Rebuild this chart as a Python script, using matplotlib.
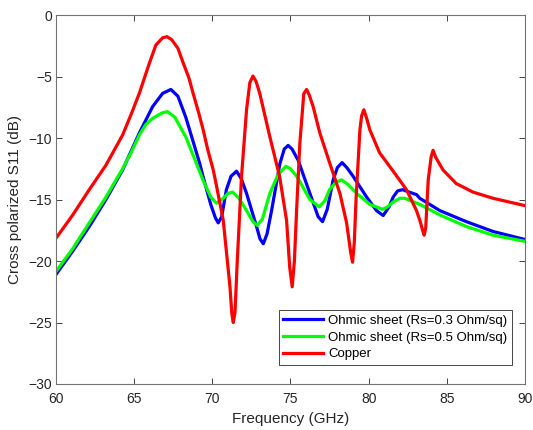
import matplotlib
matplotlib.use("Agg")
import matplotlib.pyplot as plt

plt.rcParams['font.family'] = ['Liberation Sans', 'DejaVu Sans']

# Copper
freq_cu = [60, 61.07, 62.13, 63.2, 64.26, 64.8, 65.33, 65.97, 66.39, 66.82, 67.1, 67.4,
           67.8, 68.14, 68.5, 68.78, 69.14, 69.42, 69.7, 70.06, 70.27, 70.7, 71.13, 71.25,
           71.34, 71.45, 71.6, 71.87, 72.19, 72.4, 72.6, 72.8, 73.04, 73.68, 74.3, 74.75,
           74.95, 75.11, 75.25, 75.39, 75.6, 75.85, 76.03, 76.2, 76.45, 76.88, 77.5, 78.16,
           78.59, 78.85, 78.97, 79.08, 79.2, 79.44, 79.55, 79.69, 79.85, 80.08, 80.7, 81.57,
           82.42, 83.06, 83.3, 83.45, 83.55, 83.65, 83.81, 84.0, 84.12, 84.3, 84.76, 85.6,
           86.68, 87.96, 90]
s11_cu = [-18.15, -16.26, -14.2, -12.2, -9.76, -8.1, -6.37, -3.93, -2.44, -1.85, -1.76, -2.0,
          -2.7, -3.9, -5.1, -6.4, -8.0, -9.35, -10.9, -12.6, -13.9, -16.7, -22.1, -24.3,
          -25.0, -24.2, -19.9, -13.1, -7.7, -5.5, -4.96, -5.4, -6.4, -9.9, -13.1, -16.7,
          -20.5, -22.1, -20.0, -15.9, -10.4, -6.4, -6.05, -6.5, -7.45, -9.6, -12.0, -14.5,
          -16.9, -19.3, -20.1, -18.5, -14.8, -9.35, -8.2, -7.7, -8.3, -9.35, -11.2, -12.7,
          -14.2, -15.9, -16.8, -17.5, -17.9, -17.3, -13.4, -11.5, -11.0, -11.6, -12.6, -13.7,
          -14.4, -14.9, -15.5]

# Ohmic sheet Rs=0.3
freq_03 = [60, 61.07, 62.13, 63.2, 64.26, 65.33, 66.18, 66.82, 67.35, 67.8, 68.3, 68.8,
           69.2, 69.4, 69.9, 70.2, 70.38, 70.6, 70.9, 71.2, 71.55, 71.85, 72.19, 72.83,
           73.05, 73.26, 73.5, 73.79, 74.32, 74.6, 74.85, 75.1, 75.49, 76.24, 76.77, 77.05,
           77.35, 77.73, 78.0, 78.3, 78.6, 79.0, 79.87, 80.5, 80.93, 81.3, 81.57, 81.85,
           82.17, 82.6, 83.06, 83.27, 84.55, 86.25, 87.96, 90]
s11_03 = [-21.1, -19.2, -17.2, -15.0, -12.6, -9.6, -7.45, -6.37, -6.05, -6.6, -8.3, -10.4,
          -12.1, -13.1, -15.4, -16.5, -16.9, -16.4, -14.2, -13.1, -12.7, -13.3, -14.5, -17.2,
          -18.2, -18.6, -17.8, -15.9, -12.1, -10.9, -10.6, -10.9, -11.8, -14.5, -16.4, -16.8,
          -15.8, -13.4, -12.4, -12.0, -12.4, -13.1, -14.8, -15.9, -16.3, -15.6, -14.8, -14.3,
          -14.2, -14.4, -14.6, -14.9, -15.9, -16.8, -17.6, -18.25]

# Ohmic sheet Rs=0.5
freq_05 = [60, 61.07, 62.13, 63.2, 64.26, 64.8, 65.33, 65.75, 66.18, 66.82, 67.14, 67.6,
           68.3, 68.9, 69.4, 69.9, 70.27, 70.7, 71.0, 71.3, 71.7, 72.19, 72.6, 72.87,
           73.2, 73.68, 74.2, 74.7, 75.0, 75.39, 75.8, 76.24, 76.84, 77.2, 77.5, 77.9,
           78.27, 78.7, 79.23, 80.08, 80.89, 81.2, 81.57, 82.0, 82.31, 83.27, 84.55, 86.25,
           87.96, 90]
s11_05 = [-20.85, -19.0, -16.9, -14.8, -12.5, -11.2, -9.76, -8.9, -8.4, -7.94, -7.86, -8.3,
          -9.9, -11.8, -13.4, -14.8, -15.3, -14.9, -14.5, -14.4, -14.9, -15.9, -16.8, -17.1,
          -16.6, -14.5, -13.0, -12.3, -12.5, -13.1, -14.0, -15.0, -15.6, -15.1, -14.2, -13.6,
          -13.4, -13.8, -14.5, -15.4, -15.8, -15.6, -15.2, -14.9, -14.9, -15.4, -16.25, -17.2,
          -17.9, -18.4]

fig = plt.figure(figsize=(5.33, 4.3), dpi=100)
ax = fig.add_axes([0.105, 0.107, 0.88, 0.858])

ax.plot(freq_03, s11_03, color=(0, 0, 1), lw=2.3, label='Ohmic sheet (Rs=0.3 Ohm/sq)')
ax.plot(freq_05, s11_05, color=(0, 1, 0), lw=2.3, label='Ohmic sheet (Rs=0.5 Ohm/sq)')
ax.plot(freq_cu, s11_cu, color=(1, 0, 0), lw=2.3, label='Copper')

ax.set_xlim(60, 90)
ax.set_ylim(-30, 0)
ax.set_xticks(range(60, 91, 5))
ax.set_yticks(range(-30, 1, 5))
ax.tick_params(direction='in', top=True, right=True, length=4, width=0.6,
               labelsize=10, colors='0.15')
ax.tick_params(axis='x', pad=6)
ax.tick_params(axis='y', pad=3)
for sp in ax.spines.values():
    sp.set_color('0.45')
    sp.set_linewidth(0.8)

ax.set_xlabel('Frequency (GHz)', fontsize=11, color='0.15', labelpad=4)
ax.set_ylabel('Cross polarized S11 (dB)', fontsize=11, color='0.15', labelpad=4)

leg = ax.legend(loc='lower right', bbox_to_anchor=(0.972, 0.0515), borderaxespad=0,
                fontsize=9.5, fancybox=False, framealpha=1, edgecolor='0.15',
                handlelength=3, handletextpad=0.4, labelspacing=0.35, borderpad=0.35)
leg.get_frame().set_linewidth(0.6)

fig.savefig('out.png', dpi=100)
